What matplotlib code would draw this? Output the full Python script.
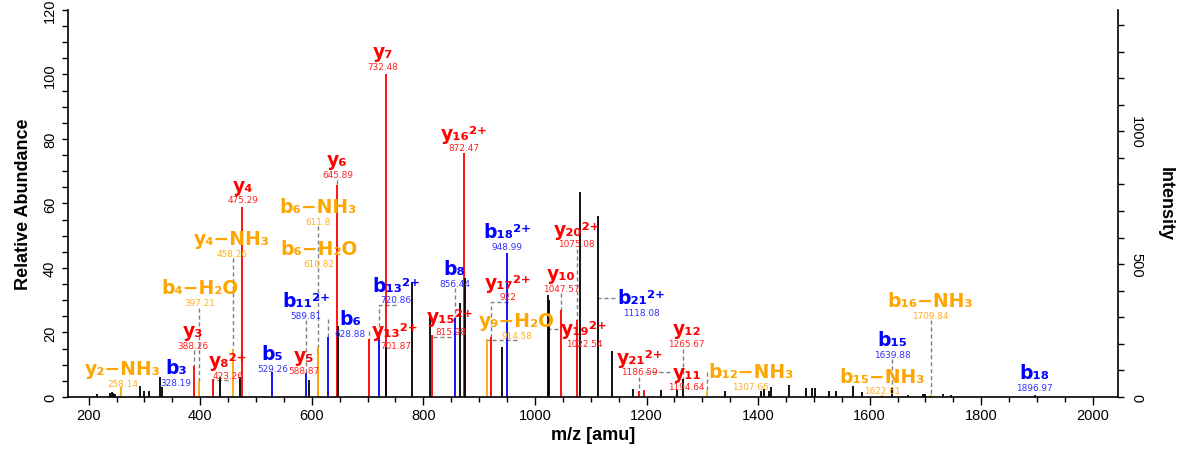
import matplotlib
matplotlib.use("Agg")
import matplotlib.pyplot as plt
from matplotlib.ticker import MultipleLocator

# unassigned peaks: m/z and relative abundance (%)
peak_mz = [215.0, 238.0, 241.0, 244.0, 247.0, 292.6, 299.0, 309.0, 328.19, 331.5,
           435.0, 471.7, 594.7, 646.2, 733.0, 779.2, 812.0, 865.7, 874.7, 941.5,
           1022.54, 1024.3, 1080.6, 1113.4, 1137.4, 1175.0, 1225.7, 1255.5, 1265.67, 1341.5,
           1406.0, 1410.0, 1419.7, 1424.0, 1455.0, 1486.7, 1497.0, 1502.8, 1527.0, 1540.0,
           1570.0, 1586.0, 1639.88, 1668.7, 1695.5, 1698.6, 1731.0, 1746.0, 1896.97]
peak_rel = [1.0, 1.2, 1.5, 1.3, 0.9, 3.3, 2.0, 1.9, 6.2, 3.0,
            6.2, 6.2, 5.4, 22.0, 15.5, 35.8, 25.9, 29.0, 37.0, 15.5,
            31.5, 30.0, 63.6, 56.0, 14.3, 2.5, 2.3, 2.3, 5.7, 1.9,
            2.0, 2.5, 2.0, 3.0, 3.6, 2.9, 2.9, 2.9, 1.9, 1.9,
            3.3, 1.6, 2.8, 0.5, 1.0, 1.0, 1.0, 0.6, 0.6]

# matched fragment ions
ion_mz = [258.14, 388.26, 397.21, 423.26, 458.26, 475.29, 529.26, 589.81, 610.82, 611.8,
          628.88, 645.89, 701.87, 720.86, 732.48, 815.98, 856.44, 872.47, 914.58, 922.0,
          948.99, 1047.57, 1075.08, 1186.59, 1194.64, 1307.66, 1622.61, 1709.84]
ion_rel = [3.1, 9.5, 5.0, 5.7, 15.0, 59.0, 7.8, 7.3, 15.5, 15.5,
           18.6, 65.7, 18.1, 20.2, 100.0, 19.2, 24.4, 75.5, 18.1, 18.6,
           44.6, 26.9, 24.0, 2.0, 2.3, 2.0, 0.5, 0.5]
ion_kind = ['loss', 'y', 'loss', 'y', 'loss', 'y', 'b', 'b', 'loss', 'loss',
            'b', 'y', 'y', 'b', 'y', 'y', 'b', 'y', 'loss', 'y',
            'b', 'y', 'y', 'y', 'y', 'loss', 'loss', 'loss']

# peak labels
ann_text = ['y₂−NH₃', 'b₃', 'y₃', 'b₄−H₂O', 'y₈²⁺', 'y₄−NH₃', 'y₄', 'b₆−NH₃', 'b₆−H₂O', 'y₆',
            'b₁₁²⁺', 'b₆', 'b₅', 'y₅', 'y₇', 'y₁₃²⁺', 'b₁₃²⁺', 'y₁₅²⁺', 'b₈', 'y₁₆²⁺',
            'y₁₇²⁺', 'y₉−H₂O', 'b₁₈²⁺', 'y₁₀', 'y₂₀²⁺', 'y₁₉²⁺', 'b₂₁²⁺', 'y₁₂', 'y₂₁²⁺', 'y₁₁',
            'b₁₂−NH₃', 'b₁₅−NH₃', 'b₁₅', 'b₁₆−NH₃', 'b₁₈']
ann_value = ['258.14', '328.19', '388.26', '397.21', '423.26', '458.26', '475.29', '611.8', '610.82', '645.89',
             '589.81', '628.88', '529.26', '588.87', '732.48', '701.87', '720.86', '815.98', '856.44', '872.47',
             '922', '914.58', '948.99', '1047.57', '1075.08', '1022.54', '1118.08', '1265.67', '1186.59', '1194.64',
             '1307.66', '1622.61', '1639.88', '1709.84', '1896.97']

# label placement (m/z, rel. abundance) and leader style
ann_pos = [(260.5, 8.7), (357, 9.0), (387.5, 20.6), (400, 33.8), (450, 11.3),
           (457, 49.1), (477, 65.6), (611, 59.0), (613, 46.0), (646, 73.5),
           (590, 29.9), (669, 24.2), (529, 13.4), (586, 12.8), (728, 107.1),
           (750, 20.6), (751, 34.6), (848.7, 24.8), (856, 39.8), (873, 81.8),
           (951.7, 35.6), (968, 23.7), (950, 51.2), (1046.6, 38.2), (1075, 52.0),
           (1087.8, 21.1), (1190.8, 30.7), (1272, 21.1), (1188, 12.3), (1272, 7.7),
           (1386.9, 7.9), (1623, 6.4), (1640, 17.8), (1709, 29.9), (1895.5, 7.5)]
ann_leader = ['', '', 'v', 'v', 'L', 'v', '', 'v', '', 'v',
              'v', 'side', '', '', '', 'side', 'L', 'L', 'v', '',
              'L', 'L', '', 'v', 'v', 'h', 'h', 'v', 'v', 'h',
              'side', '', 'v', 'v', '']

colors = {'y': '#ff0000', 'b': '#0000ff', 'loss': '#ffa500', '': 'black'}
value_colors = {'y': '#ff2020', 'b': '#3030ff', 'loss': '#ffb020'}


def kind_of(label):
    if '−' in label:
        return 'loss'
    return 'b' if label.startswith('b') else 'y'


fig = plt.figure(figsize=(11.81, 4.52), dpi=100)
ax = fig.add_axes([0.0576, 0.1195, 0.889, 0.8563])
ax2 = ax.twinx()

ax.vlines(ion_mz, 0, ion_rel, colors=[colors[k] for k in ion_kind], lw=1.3, zorder=2)
ax.vlines(peak_mz, 0, peak_rel, colors='black', lw=1.3, zorder=3)

ax.set_xlim(163, 2045)
ax.set_ylim(0, 120)
ax2.set_ylim(0, 1457)

all_mz = peak_mz + ion_mz
all_rel = peak_rel + ion_rel

fig.canvas.draw()
renderer = fig.canvas.get_renderer()
inv = ax.transData.inverted()

for text, value, (x0, y0), lead in zip(ann_text, ann_value, ann_pos, ann_leader):
    k = kind_of(text)
    t = ax.text(x0, y0, text, ha='center', va='center', fontsize=13.5,
                fontweight='bold', color=colors[k], family='DejaVu Sans', zorder=5)
    ax.text(x0, y0 - 4.5, value, ha='center', va='center', fontsize=6.4,
            color=value_colors[k], family='DejaVu Sans', zorder=5)
    if not lead:
        continue
    target = float(value)
    i = min(range(len(all_mz)), key=lambda j: abs(all_mz[j] - target))
    px, ptop = all_mz[i], all_rel[i]
    vy = y0 - 6.1
    if lead == 'v':
        xs, ys = [px, px], [vy, ptop]
    elif lead == 'L':
        xs, ys = [x0, px, px], [vy, vy, ptop]
    elif lead == 'side':
        xs, ys = [px, px], [y0, ptop]
    else:
        bb = t.get_window_extent(renderer)
        left = inv.transform((bb.x0, bb.y0))[0]
        xs, ys = [left - 4, px], [y0, y0]
    ax.plot(xs, ys, ls=(0, (3, 2)), color='#808080', lw=1.0, zorder=1)

# axes styling
tick_font = {'family': 'Liberation Sans', 'size': 10.5}
ax.xaxis.set_major_locator(MultipleLocator(200))
ax.xaxis.set_minor_locator(MultipleLocator(50))
ax.yaxis.set_major_locator(MultipleLocator(20))
ax.yaxis.set_minor_locator(MultipleLocator(5))
ax2.yaxis.set_major_locator(MultipleLocator(500))
ax2.yaxis.set_minor_locator(MultipleLocator(100))

ax.tick_params(axis='x', which='major', length=6, width=1, pad=2)
ax.tick_params(axis='x', which='minor', length=3.5, width=1)
ax.tick_params(axis='y', which='both', length=4.5, width=1)
ax2.tick_params(axis='y', which='both', length=4.5, width=1)

for lab in ax.get_xticklabels():
    lab.set_fontproperties(tick_font)
for lab in ax.get_yticklabels():
    lab.set_fontproperties(tick_font)
    lab.set_rotation(90)
    lab.set_va('center')
for lab in ax2.get_yticklabels():
    lab.set_fontproperties(tick_font)
    lab.set_rotation(270)
    lab.set_va('center')

ax.spines['top'].set_visible(False)
ax.spines['right'].set_visible(False)
for s in ['top', 'left', 'bottom']:
    ax2.spines[s].set_visible(False)
for sp in [ax.spines['left'], ax.spines['bottom'], ax2.spines['right']]:
    sp.set_linewidth(1.2)

label_font = dict(family='Liberation Sans', fontsize=13, fontweight='bold')
ax.set_xlabel('m/z [amu]', labelpad=3, **label_font)
ax.set_ylabel('Relative Abundance', labelpad=8, **label_font)
ax2.set_ylabel('Intensity', rotation=270, labelpad=22, **label_font)

fig.savefig('out.png', dpi=100)
